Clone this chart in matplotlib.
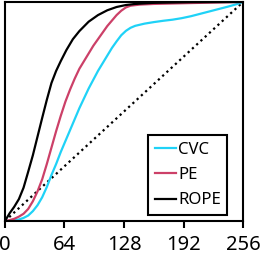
import numpy as np
import matplotlib
matplotlib.use("Agg")
import matplotlib.pyplot as plt

plt.rcParams['font.family'] = ['Noto Sans', 'DejaVu Sans']

# Werte (x in 0..256, y als Anteil 0..1)
rope_x = [0, 5, 10, 15, 20, 25, 30, 35, 40, 45, 50, 55, 60, 66, 73, 80, 90, 100, 110, 120, 130, 140, 160, 200, 256]
rope_y = [0, 0.035, 0.065, 0.10, 0.152, 0.225, 0.30, 0.385, 0.47, 0.553, 0.63, 0.685, 0.73, 0.78, 0.83, 0.867, 0.91, 0.94, 0.962, 0.977, 0.986, 0.991, 0.996, 0.999, 1.0]

pe_x = [0, 5, 10, 15, 20, 25, 30, 35, 40, 45, 50, 55, 60, 65, 70, 75, 80, 85, 90, 95, 100, 105, 110, 115, 120, 125, 130, 135, 145, 160, 200, 256]
pe_y = [0, 0.004, 0.01, 0.02, 0.033, 0.055, 0.09, 0.135, 0.19, 0.26, 0.335, 0.41, 0.48, 0.545, 0.60, 0.65, 0.695, 0.73, 0.765, 0.80, 0.83, 0.86, 0.89, 0.915, 0.94, 0.96, 0.975, 0.983, 0.988, 0.991, 0.995, 1.0]

cvc_x = [0, 5, 10, 15, 20, 25, 30, 35, 40, 45, 50, 55, 60, 65, 70, 75, 80, 85, 90, 95, 100, 105, 110, 115, 120, 125, 130, 135, 140, 150, 160, 170, 180, 190, 200, 210, 220, 230, 240, 250, 256]
cvc_y = [0, 0.001, 0.003, 0.007, 0.014, 0.025, 0.045, 0.072, 0.108, 0.155, 0.21, 0.26, 0.315, 0.365, 0.415, 0.465, 0.515, 0.56, 0.605, 0.645, 0.685, 0.72, 0.755, 0.79, 0.82, 0.848, 0.868, 0.882, 0.891, 0.901, 0.908, 0.914, 0.919, 0.926, 0.935, 0.946, 0.957, 0.968, 0.979, 0.991, 1.0]

diag_x = [0, 256]
diag_y = [0, 1]

labels = ['CVC', 'PE', 'ROPE']
colors = ['#1fd2f7', '#cc4068', '#000000']
xticks = [0, 64, 128, 192, 256]

fig = plt.figure(figsize=(2.60, 2.58), dpi=100)
ax = fig.add_axes([0.019, 0.1434, 0.916, 0.849])

ax.plot(diag_x, diag_y, color='black', linestyle=(0, (1, 1.6)), linewidth=1.6)
ax.plot(cvc_x, cvc_y, color=colors[0], linewidth=1.6, label=labels[0], solid_joinstyle='round')
ax.plot(pe_x, pe_y, color=colors[1], linewidth=1.6, label=labels[1], solid_joinstyle='round')
ax.plot(rope_x, rope_y, color=colors[2], linewidth=1.6, label=labels[2], solid_joinstyle='round')

ax.set_xlim(0, 256)
ax.set_ylim(0, 1)
ax.set_xticks(xticks)
ax.set_xticklabels([str(t) for t in xticks])
ax.set_yticks([])
ax.tick_params(axis='x', direction='out', length=5, width=1.5, labelsize=14.5, pad=5)
for s in ax.spines.values():
    s.set_linewidth(1.5)

leg = ax.legend(loc='lower left', bbox_to_anchor=(0.601, 0.027), borderaxespad=0,
                fontsize=12, handlelength=1.3, handletextpad=0.1, labelspacing=0.55,
                fancybox=False, framealpha=1, edgecolor='black', borderpad=0.4)
leg.get_frame().set_linewidth(1.5)

fig.savefig('out.png', dpi=100)
